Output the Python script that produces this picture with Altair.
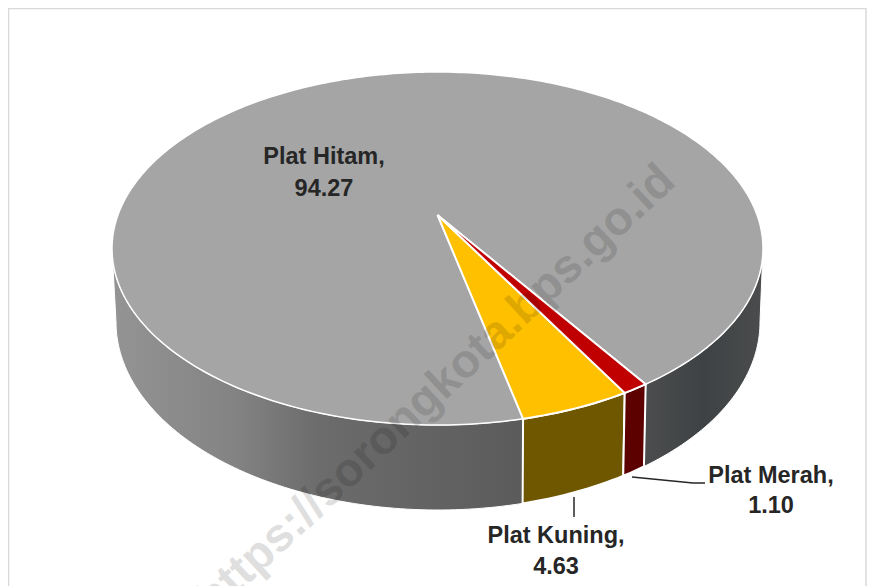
import math
import altair as alt
import pandas as pd

# ---- values
categories = ["Plat Kuning", "Plat Merah", "Plat Hitam"]
values = [4.63, 1.10, 94.27]
top_colors = ["#ffc000", "#c00000", "#a5a5a5"]
wall_colors = ["#6f5700", "#5c0000"]
watermark = "https://sorongkota.bps.go.id"

# ---- layout of the tilted pie (page pixels)
CX, CY, A, B = 437.5, 248.5, 325.5, 176.5      # top rim
BX, BY, BA, BB = 438, 322, 322, 188            # bottom rim
APEX_Y = 215
START = 12.6                                   # degrees, from the front, counter-clockwise
S = (APEX_Y - CY) / B                          # perspective shift of the pie centre
STEP = 1.0


def rim(phi):
    """Perspective projection of a rim angle to normalised ellipse coordinates."""
    X, Y = math.sin(math.radians(phi)), math.cos(math.radians(phi))
    d = 1 + S * Y
    return X * math.sqrt(1 - S * S) / d, (Y + S) / d


def top(phi):
    p, q = rim(phi)
    return CX + A * p, CY + B * q


def bottom(phi):
    p, q = rim(phi)
    return BX + BA * p, BY + BB * q


def arange(a, b):
    n = max(2, int(abs(b - a) / STEP) + 1)
    return [a + (b - a) * i / (n - 1) for i in range(n)]


def frame(points):
    return pd.DataFrame(
        [{"i": i, "x": x, "y": y} for i, (x, y) in enumerate(points)]
    )


xs = alt.Scale(domain=[8, 867])
ys = alt.Scale(domain=[586, 8])


def poly(points, **mark):
    pts = list(points) + [points[0]]
    return alt.Chart(frame(pts)).mark_line(**mark).encode(
        x=alt.X("x:Q", scale=xs, axis=None),
        y=alt.Y("y:Q", scale=ys, axis=None),
        order="i:Q",
    )


def stroke_line(points, **mark):
    return alt.Chart(frame(points)).mark_line(**mark).encode(
        x=alt.X("x:Q", scale=xs, axis=None),
        y=alt.Y("y:Q", scale=ys, axis=None),
        order="i:Q",
    )


def gradient(stops):
    return alt.Gradient(
        gradient="linear", x1=0, x2=1, y1=0, y2=0,
        stops=[alt.GradientStop(offset=o, color=c) for o, c in stops],
    )


edges = [START]
for v in values:
    edges.append(edges[-1] + 360 * v / sum(values))
edge_phi = math.degrees(math.acos(-S))

layers = []

# walls
left_phi = arange(-edge_phi, edges[0])
right_phi = arange(edges[2], edge_phi)
layers.append(poly([top(a) for a in left_phi] + [bottom(a) for a in reversed(left_phi)],
                   fill=gradient([(0, "#949494"), (0.3, "#838383"), (0.5, "#6c6c6c"), (1, "#5b5b5b")]),
                   stroke="#ffffff", strokeWidth=1))
layers.append(poly([top(a) for a in right_phi] + [bottom(a) for a in reversed(right_phi)],
                   fill=gradient([(0, "#4b4d4e"), (0.5, "#3f4244"), (1, "#4a4c4d")]),
                   stroke="#ffffff", strokeWidth=1))
for k in range(2):
    arc = arange(edges[k], edges[k + 1])
    layers.append(poly([top(a) for a in arc] + [bottom(a) for a in reversed(arc)],
                       fill=wall_colors[k], stroke="#ffffff", strokeWidth=2))

# top face
apex = (CX, APEX_Y)
layers.append(poly([apex] + [top(a) for a in arange(edges[2], edges[3])],
                   fill=top_colors[2], stroke="#ffffff", strokeWidth=1.5))
for k in range(2):
    layers.append(poly([apex] + [top(a) for a in arange(edges[k], edges[k + 1])],
                       fill=top_colors[k], stroke="#ffffff", strokeWidth=2))

# leader lines
layers.append(stroke_line([(632, 477), (693, 483), (705, 483)], stroke="#262626", strokeWidth=1.5))
layers.append(stroke_line([(574, 497), (574, 517)], stroke="#262626", strokeWidth=1.5))

# labels
label_pos = {"Plat Hitam": (324, 157, 189), "Plat Merah": (771, 476, 506), "Plat Kuning": (556, 536, 567)}
rows = []
for name, val in zip(categories, values):
    x, y1, y2 = label_pos[name]
    rows.append({"x": x, "y": y1, "t": name + ","})
    rows.append({"x": x, "y": y2, "t": f"{val:.2f}"})
layers.append(alt.Chart(pd.DataFrame(rows)).mark_text(
    font="Liberation Sans", fontWeight="bold", fontSize=23.5, color="#262626",
    align="center", baseline="middle",
).encode(
    x=alt.X("x:Q", scale=xs, axis=None),
    y=alt.Y("y:Q", scale=ys, axis=None),
    text="t:N",
))

# watermark
layers.append(alt.Chart(pd.DataFrame({"x": [436], "y": [390], "t": [watermark]})).mark_text(
    font="Liberation Sans", fontWeight="bold", fontSize=47, color="#000000", opacity=0.12,
    align="center", baseline="middle", angle=317,
).encode(
    x=alt.X("x:Q", scale=xs, axis=None),
    y=alt.Y("y:Q", scale=ys, axis=None),
    text="t:N",
))

# chart frame
layers.append(stroke_line([(8.5, 586), (8.5, 8.5), (866, 8.5), (866, 586)], stroke="#d9d9d9", strokeWidth=1.5))

chart = alt.layer(*layers).properties(
    width=859, height=578, padding=0,
    autosize=alt.AutoSizeParams(type="none"),
).configure_view(stroke=None)

chart.save("out.html", embed_options={"renderer": "svg", "actions": False})
